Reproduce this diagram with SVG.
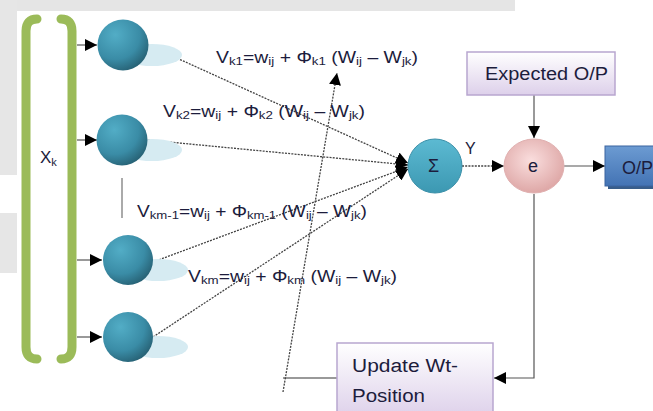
<svg xmlns="http://www.w3.org/2000/svg" width="653" height="411" viewBox="0 0 653 411">
<style>
text{font-family:"Liberation Sans",Arial,sans-serif;fill:#1c1c3c}
.eq{font-size:16px}
.sub{font-size:11px}
.dot{stroke:#444;stroke-width:1.3;stroke-dasharray:2 1.2;fill:none}
.ln{stroke:#555;stroke-width:1.2;fill:none}
.gl{stroke:#999;stroke-width:2;fill:none}
.br{stroke:#9bbb59;stroke-width:9;fill:none;stroke-linecap:round}
</style>
<defs>
<marker id="ah" viewBox="0 0 10 10" refX="10" refY="5" markerWidth="12" markerHeight="12" markerUnits="userSpaceOnUse" orient="auto"><path d="M0,0 L10,5 L0,10 z" fill="#000"/></marker>
<radialGradient id="sph" cx="0.35" cy="0.3" r="0.8"><stop offset="0" stop-color="#52adc6"/><stop offset="0.6" stop-color="#3a8ca6"/><stop offset="1" stop-color="#23596b"/></radialGradient>
<linearGradient id="sig" x1="0" y1="0" x2="0" y2="1"><stop offset="0" stop-color="#5cbad2"/><stop offset="1" stop-color="#3c98b2"/></linearGradient>
<radialGradient id="eg" cx="0.45" cy="0.4" r="0.65"><stop offset="0" stop-color="#fadede"/><stop offset="1" stop-color="#dca3a2"/></radialGradient>
<linearGradient id="lav" x1="0" y1="0" x2="0" y2="1"><stop offset="0" stop-color="#ffffff"/><stop offset="1" stop-color="#ddd0ea"/></linearGradient>
<linearGradient id="blu" x1="0" y1="0" x2="0" y2="1"><stop offset="0" stop-color="#6c9bd2"/><stop offset="1" stop-color="#4373b4"/></linearGradient>
</defs>
<rect x="0" y="0" width="653" height="411" fill="#fff"/>
<rect x="0" y="0" width="515" height="11" fill="#e5e5e5"/>
<rect x="0" y="0" width="17" height="175" fill="#e6e6e6"/>
<rect x="0" y="213" width="17" height="60" fill="#e6e6e6"/>

<g id="bracket">
<path class="br" d="M37,19 Q26,19 26,31 L26,347 Q26,359 37,359"/>
<path class="br" d="M61,19 Q72,19 72,31 L72,347 Q72,359 61,359"/>
<text x="40" y="163" font-size="17">X<tspan dy="3" font-size="11">k</tspan></text>
</g>

<g id="connectors">
<line class="ln" x1="77" y1="45" x2="97" y2="45" marker-end="url(#ah)"/>
<line class="ln" x1="77" y1="140" x2="97" y2="140" marker-end="url(#ah)"/>
<line class="ln" x1="77" y1="260" x2="102" y2="260" marker-end="url(#ah)"/>
<line class="ln" x1="77" y1="337" x2="102" y2="337" marker-end="url(#ah)"/>
<line x1="122" y1="178" x2="122" y2="218" stroke="#aaa" stroke-width="2"/>
<line class="dot" x1="148" y1="45" x2="408" y2="163" marker-end="url(#ah)"/>
<line class="dot" x1="148" y1="140" x2="408" y2="165" marker-end="url(#ah)"/>
<line class="dot" x1="153" y1="262" x2="408" y2="167" marker-end="url(#ah)"/>
<line class="dot" x1="153" y1="337" x2="408" y2="169" marker-end="url(#ah)"/>
<line class="dot" x1="462" y1="166" x2="504" y2="166" marker-end="url(#ah)"/>
<line class="ln" x1="564" y1="166" x2="605" y2="166" marker-end="url(#ah)"/>
<line class="gl" x1="534" y1="95" x2="534" y2="138" marker-end="url(#ah)"/>
<polyline class="ln" points="534,194 534,378 494,378" marker-end="url(#ah)"/>
<line class="gl" x1="337" y1="378" x2="283" y2="378"/>
<line class="dot" x1="283" y1="392" x2="337" y2="73" marker-end="url(#ah)"/>
</g>

<g id="in1"><ellipse cx="152" cy="55" rx="30" ry="11" fill="#d6ebf2"/><circle cx="123" cy="45" r="25.5" fill="url(#sph)"/></g>
<g id="in2"><ellipse cx="152" cy="150" rx="30" ry="11" fill="#d6ebf2"/><circle cx="122" cy="140" r="25.5" fill="url(#sph)"/></g>
<g id="in3"><ellipse cx="158" cy="270" rx="30" ry="11" fill="#d6ebf2"/><circle cx="128" cy="260" r="25" fill="url(#sph)"/></g>
<g id="in4"><ellipse cx="158" cy="347" rx="30" ry="11" fill="#d6ebf2"/><circle cx="128" cy="337" r="25" fill="url(#sph)"/></g>

<g id="eq1"><text class="eq" x="216" y="63" textLength="202" lengthAdjust="spacingAndGlyphs">V<tspan class="sub" dy="2">k1</tspan><tspan dy="-2">=w</tspan><tspan class="sub" dy="2">ij</tspan><tspan dy="-2"> + Φ</tspan><tspan class="sub" dy="2">k1</tspan><tspan dy="-2"> (W</tspan><tspan class="sub" dy="2">ij</tspan><tspan dy="-2"> – W</tspan><tspan class="sub" dy="2">jk</tspan><tspan dy="-2">)</tspan></text></g>
<g id="eq2"><text class="eq" x="163" y="117" textLength="202" lengthAdjust="spacingAndGlyphs">V<tspan class="sub" dy="2">k2</tspan><tspan dy="-2">=w</tspan><tspan class="sub" dy="2">ij</tspan><tspan dy="-2"> + Φ</tspan><tspan class="sub" dy="2">k2</tspan><tspan dy="-2"> (W</tspan><tspan class="sub" dy="2">ij</tspan><tspan dy="-2"> – W</tspan><tspan class="sub" dy="2">jk</tspan><tspan dy="-2">)</tspan></text></g>
<g id="eq3"><text class="eq" x="137" y="217" textLength="230" lengthAdjust="spacingAndGlyphs">V<tspan class="sub" dy="2">km-1</tspan><tspan dy="-2">=w</tspan><tspan class="sub" dy="2">ij</tspan><tspan dy="-2"> + Φ</tspan><tspan class="sub" dy="2">km-1</tspan><tspan dy="-2"> (W</tspan><tspan class="sub" dy="2">ij</tspan><tspan dy="-2"> – W</tspan><tspan class="sub" dy="2">jk</tspan><tspan dy="-2">)</tspan></text></g>
<g id="eq4"><text class="eq" x="188" y="282" textLength="209" lengthAdjust="spacingAndGlyphs">V<tspan class="sub" dy="2">km</tspan><tspan dy="-2">=w</tspan><tspan class="sub" dy="2">ij</tspan><tspan dy="-2"> + Φ</tspan><tspan class="sub" dy="2">km</tspan><tspan dy="-2"> (W</tspan><tspan class="sub" dy="2">ij</tspan><tspan dy="-2"> – W</tspan><tspan class="sub" dy="2">jk</tspan><tspan dy="-2">)</tspan></text></g>

<g id="sigma"><circle cx="435" cy="166" r="27" fill="url(#sig)" stroke="#3a8fa8" stroke-width="1"/><text x="428" y="172" font-size="18">Σ</text><text x="465" y="154" font-size="16">Y</text></g>
<g id="err"><ellipse cx="534" cy="166" rx="30" ry="27" fill="url(#eg)" stroke="#e0b0b0" stroke-width="1"/><text x="528" y="172" font-size="18">e</text></g>
<g id="expected"><rect x="467" y="52" width="148" height="43" fill="url(#lav)" stroke="#b8a6cf" stroke-width="1.5"/><text x="485" y="80" font-size="18" textLength="123" lengthAdjust="spacingAndGlyphs">Expected O/P</text></g>
<g id="out"><rect x="608" y="149" width="50" height="40" fill="#385d8a"/><rect x="605" y="146" width="52" height="40" fill="url(#blu)" stroke="#3b64a0" stroke-width="1"/><text x="622" y="174" font-size="18">O/P</text></g>
<g id="update"><rect x="337" y="343" width="156" height="75" fill="url(#lav)" stroke="#b8a6cf" stroke-width="1.5"/><text x="352" y="372" font-size="18" textLength="106" lengthAdjust="spacingAndGlyphs">Update Wt-</text><text x="352" y="402" font-size="18" textLength="73" lengthAdjust="spacingAndGlyphs">Position</text></g>
</svg>
